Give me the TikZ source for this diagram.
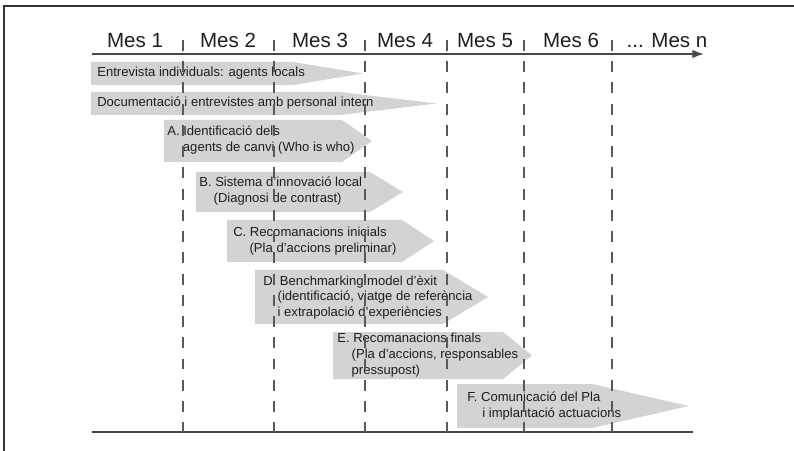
\documentclass[tikz,border=0pt]{standalone}
\usepackage{fontspec}
\setmainfont{Liberation Sans}
\usepackage{xcolor}
\usepackage{tikz}
\usetikzlibrary{arrows.meta, positioning, calc}

\definecolor{barfill}{HTML}{D3D3D3}
\definecolor{axisgray}{HTML}{474747}
\definecolor{textgray}{HTML}{1E1E1E}

\begin{document}
\begin{tikzpicture}[
    x=0.025cm, y=-0.025cm,
    month/.style={font=\fontsize{14.6pt}{17pt}\selectfont, text=textgray, inner sep=0pt, anchor=base},
    lbl/.style={font=\fontsize{9.3pt}{11.3pt}\selectfont, text=textgray, inner sep=0pt, align=left, anchor=west},
    bar/.style={fill=barfill},
    axis/.style={draw=axisgray, line width=1.1pt},
    monthline/.style={draw=axisgray!90, line width=0.75pt, dash pattern=on 7.8pt off 7.3pt},
    frame/.style={draw=black!80, line width=1.3pt}
  ]
  \useasboundingbox (0,0) rectangle (794,451);
  \draw[frame] (794,6) -- (4,6) -- (4,451);

  % Months
  \node[month] (m1) at (135,48) {Mes 1};
  \node[month] (m2) at (228,48) {Mes 2};
  \node[month] (m3) at (320,48) {Mes 3};
  \node[month] (m4) at (405,48) {Mes 4};
  \node[month] (m5) at (485,48) {Mes 5};
  \node[month] (m6) at (571,48) {Mes 6};
  \node[month] (mn) at (667,48) {... Mes n};

  % Axis
  \coordinate (topL) at (92,54);
  \coordinate (topR) at (704,54);
  \coordinate (botL) at (92,432);
  \coordinate (botR) at (693,432);
  \draw[axis, -{Latex[length=2.9mm, width=2.1mm]}] (topL) -- (topR);
  \draw[axis] (botL) -- (botR);

  % Bars: left/top/bottom/shoulder/tip
  \foreach \l/\t/\b/\s/\p in {91/62/85/293/363, 91/92/115/340/437,
      164/120/162/342/372, 196/172/212/370/403, 227/220/262/402/434,
      255/270/324/443/488, 333/332/379/503/532, 457/384/428/592/689}
    \fill[bar] (\l,\t) -- (\s,\t) -- (\p,{(\t+\b)/2}) -- (\s,\b) -- (\l,\b) -- cycle;

  % Labels
  \node[lbl] (ent) at (97,73.5) {Entrevista individuals: agents locals};
  \node[lbl] (doc) at (97,103.5) {Documentació i entrevistes amb personal intern};
  \node[lbl] (ta) at (167,140) {A. Identificació dels\\\hspace*{1.2em}agents de canvi (Who is who)};
  \node[lbl] (tb) at (199,191) {B. Sistema d’innovació local\\\hspace*{1.1em}(Diagnosi de contrast)};
  \node[lbl] (tc) at (233,241) {C. Recomanacions inicials\\\hspace*{1.25em}(Pla d’accions preliminar)};
  \node[lbl] (td) at (263,297.5) {D. Benchmarking model d’èxit\\\hspace*{1.1em}(identificació, viatge de referència\\\hspace*{1.1em}i extrapolació d’experiències};
  \node[lbl] (te) at (337,355) {E. Recomanacions finals\\\hspace*{1.1em}(Pla d’accions, responsables\\\hspace*{1.1em}pressupost)};
  \node[lbl] (tf) at (467,406) {F. Comunicació del Pla\\\hspace*{1.15em}i implantació actuacions};

  % Month separators
  \foreach \x in {183,274,365,447,524,612}
    \draw[monthline] (\x,40) -- (\x,432);
\end{tikzpicture}
\end{document}
